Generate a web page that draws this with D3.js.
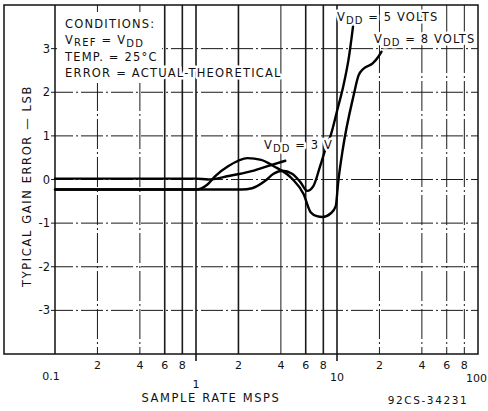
<!DOCTYPE html>
<html><head><meta charset="utf-8">
<script src="https://cdn.jsdelivr.net/npm/d3@7"></script>
<style>
html,body{margin:0;padding:0;background:#fff;}
svg{display:block;}
text{font-family:"DejaVu Sans",sans-serif;fill:#111;}
</style></head>
<body>
<svg id="c" width="488" height="411"></svg>
<script>
// ---- data ----
const xMinorTicks = [0.2,0.4,0.6,0.8,2,4,6,8,20,40,60,80];
const xMinorLabels = ["2","4","6","8","2","4","6","8","2","4","6","8"];
const xMajorTicks = [0.1,1,10,100];
const xMajorLabels = ["0.1","1","10","100"];
const yTicks = [-3,-2,-1,0,1,2,3];
const yTickLabels = ["-3","-2","-1","0","1","2","3"];

const vdd3X = [0.1, 1.0, 1.22, 1.7, 2.4, 3.1, 4.3];
const vdd3Y = [0.02, 0.02, 0.0, 0.08, 0.18, 0.29, 0.43];

const vdd5X = [0.1, 2.1, 2.5, 3.1, 3.55, 4.1, 4.8, 5.5, 6.15, 6.8, 7.6, 8.3, 9.0, 10.1, 11.1, 12.1, 13.1];
const vdd5Y = [-0.23, -0.23, -0.2, -0.03, 0.13, 0.2, 0.13, -0.06, -0.26, -0.15, 0.31, 0.7, 1.0, 1.62, 2.15, 2.77, 3.6];

const vdd8X = [0.1, 1.0, 1.2, 1.37, 1.7, 2.32, 2.9, 3.54, 4.83, 5.79, 6.5, 7.2, 7.9, 9.0, 9.8, 10.2, 11.0, 13.1, 14.2, 15.4, 17.9, 19.7, 20.7];
const vdd8Y = [-0.23, -0.23, -0.12, 0.08, 0.31, 0.49, 0.45, 0.31, 0.01, -0.33, -0.75, -0.84, -0.86, -0.78, -0.61, -0.06, 0.7, 1.92, 2.38, 2.54, 2.66, 2.82, 2.93];

// ---- layout ----
const svg = d3.select("#c");
const x = d3.scaleLog().domain([0.1,100]).range([55,478]);
const y = d3.scaleLinear().domain([-4,4]).range([354,5]);

const g = svg.append("g");

// vertical grid
const allV = xMinorTicks.concat([1,10]);
g.selectAll("line.vg").data(allV).enter().append("line")
  .attr("x1",d=>x(d)).attr("x2",d=>x(d))
  .attr("y1",y(4)).attr("y2",d=> (d===1||d===10)? 361 : y(-4))
  .attr("stroke","#1a1a1a")
  .attr("stroke-width",d=>([0.6,0.8,1,6,8,10,2].includes(d)?1.6:1))
  .attr("stroke-dasharray",d=>([0.2,0.4,20,40,60,80].includes(d)?"30,3,2,3":null));

// horizontal grid
g.selectAll("line.hg").data(yTicks).enter().append("line")
  .attr("x1",x(0.1)-4).attr("x2",x(100))
  .attr("y1",d=>y(d)).attr("y2",d=>y(d))
  .attr("stroke","#1a1a1a").attr("stroke-width",1)
  .attr("stroke-dasharray","22,3,2,3");

// frame
g.append("rect").attr("x",4).attr("y",y(4)).attr("width",x(100)-4).attr("height",y(-4)-y(4))
  .attr("fill","none").attr("stroke","#111").attr("stroke-width",1.5);
g.append("line").attr("x1",x(0.1)).attr("x2",x(0.1)).attr("y1",y(4)).attr("y2",y(-4))
  .attr("stroke","#111").attr("stroke-width",1.5);

// conditions box (white area)
g.append("rect").attr("x",57).attr("y",12).attr("width",105).attr("height",71).attr("fill","#fff");

const cond = g.append("g").attr("font-size",11.5).attr("letter-spacing",1.2);
function halo(sel){ return sel.attr("stroke","#fff").attr("stroke-width",5).attr("paint-order","stroke").attr("stroke-linejoin","round"); }
halo(cond.append("text").attr("x",65).attr("y",28).text("CONDITIONS:"));
const t2 = halo(cond.append("text").attr("x",65).attr("y",44));
t2.append("tspan").text("V");
t2.append("tspan").attr("font-size",10).attr("dy",2).text("REF");
t2.append("tspan").attr("dy",-2).text(" = V");
t2.append("tspan").attr("font-size",10).attr("dy",3).text("DD");
halo(cond.append("text").attr("x",65).attr("y",61).text("TEMP. = 25°C"));
halo(cond.append("text").attr("x",65).attr("y",77).text("ERROR = ACTUAL-THEORETICAL"));

// y tick labels
g.selectAll("text.yl").data(yTicks).enter().append("text")
  .attr("x",50).attr("y",d=>y(d)+4).attr("text-anchor","end").attr("font-size",11.5)
  .text((d,i)=>yTickLabels[i]);

// x tick labels
g.selectAll("text.xm").data(xMinorTicks).enter().append("text")
  .attr("x",d=>x(d)).attr("y",369).attr("text-anchor","middle").attr("font-size",11)
  .text((d,i)=>xMinorLabels[i]);
g.selectAll("text.xM").data(xMajorTicks).enter().append("text")
  .attr("x",(d,i)=>i===3 ? 487 : x(d)+[-4,0,0][i]).attr("y",(d,i)=>[380,388,381,382][i])
  .attr("text-anchor",(d,i)=>i===3?"end":"middle").attr("font-size",11)
  .text((d,i)=>xMajorLabels[i]);

// axis titles
g.append("text").attr("x",211).attr("y",402).attr("text-anchor","middle")
  .attr("font-size",11.5).attr("letter-spacing",1.6).text("SAMPLE  RATE  MSPS");
g.append("text").attr("x",428).attr("y",404).attr("text-anchor","middle")
  .attr("font-size",10.5).attr("letter-spacing",1.6).text("92CS-34231");
g.append("text").attr("transform","translate(31,186) rotate(-90)").attr("text-anchor","middle")
  .attr("font-size",11.5).attr("letter-spacing",1.6).text("TYPICAL  GAIN  ERROR — LSB");

// curves
const line = d3.line().x(d=>x(d[0])).y(d=>y(d[1])).curve(d3.curveMonotoneX);
const series = [[vdd3X,vdd3Y],[vdd5X,vdd5Y],[vdd8X,vdd8Y]];
g.selectAll("path.s").data(series).enter().append("path")
  .attr("d",s=>line(d3.zip(s[0],s[1])))
  .attr("fill","none").attr("stroke","#000").attr("stroke-width",2.4)
  .attr("stroke-linejoin","round").attr("stroke-linecap","round");

// curve labels
function vddLabel(px,py,rest){
  const t = halo(g.append("text").attr("x",px).attr("y",py).attr("font-size",11.5).attr("letter-spacing",1.1));
  t.append("tspan").text("V");
  t.append("tspan").attr("font-size",10).attr("dy",3).text("DD");
  t.append("tspan").attr("dy",-3).text(rest);
}
vddLabel(337,21," = 5 VOLTS");
vddLabel(374,43," = 8 VOLTS");
vddLabel(264,149," = 3 V");
</script>
</body></html>
